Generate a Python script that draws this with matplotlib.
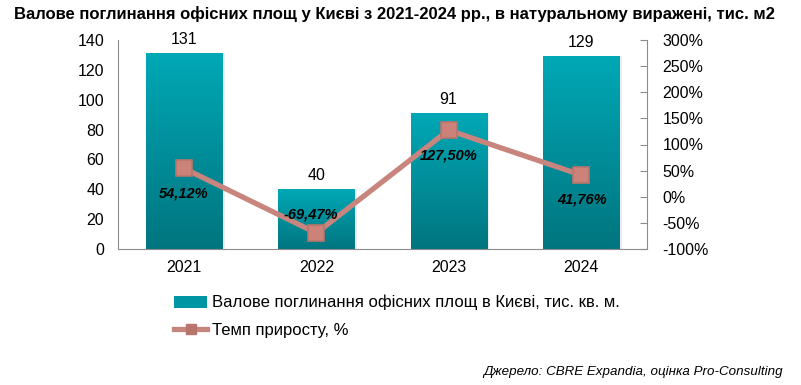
import numpy as np
import matplotlib.pyplot as plt
from matplotlib.colors import LinearSegmentedColormap
from matplotlib.lines import Line2D
from matplotlib.patches import Patch

plt.rcParams['font.family'] = ['Liberation Sans', 'DejaVu Sans']

years = ['2021', '2022', '2023', '2024']
absorption = [131, 40, 91, 129]
growth = [54.12, -69.47, 127.50, 41.76]
growth_labels = ['54,12%', '-69,47%', '127,50%', '41,76%']

bar_top = '#00A8B6'
bar_bottom = '#00757F'
line_col = '#C8857D'

fig = plt.figure(figsize=(8.01, 3.85), dpi=100)
ax = fig.add_axes([118 / 801, 1 - 249 / 385, 529 / 801, 209 / 385])
x = np.arange(len(years))

# bars with vertical gradient
cmap = LinearSegmentedColormap.from_list('teal', [bar_bottom, bar_top])
grad = np.linspace(0, 1, 256).reshape(-1, 1)
bars = ax.bar(x, absorption, width=0.575, color='none', edgecolor='none', zorder=2)
for b in bars:
    # faint shadow on the right
    ax.bar(b.get_x() + b.get_width() / 2 + 0.02, b.get_height(), width=b.get_width(),
           color='#ececec', edgecolor='none', zorder=1)
    im = ax.imshow(grad, cmap=cmap, aspect='auto', origin='lower', zorder=2,
                   extent=[b.get_x(), b.get_x() + b.get_width(), 0, b.get_height()])
    im.set_clip_path(b)
    ax.text(b.get_x() + b.get_width() / 2, b.get_height() + 4, str(int(b.get_height())),
            ha='center', va='bottom', fontsize=11.5)

ax.set_xlim(-0.5, len(years) - 0.5)
ax.set_ylim(0, 140)
ax.set_yticks(range(0, 141, 20))
ax.set_xticks(x)
ax.set_xticklabels(years)
ax.tick_params(axis='x', length=0, labelsize=11.5, pad=8)
ax.tick_params(axis='y', length=0, labelsize=11.5, pad=10)
for s in ['top', 'right']:
    ax.spines[s].set_visible(False)
ax.spines['left'].set_color('#8c8c8c')
ax.spines['bottom'].set_color('#8c8c8c')

ax2 = ax.twinx()
ax2.set_ylim(-100, 300)
ax2.set_yticks(range(-100, 301, 50))
ax2.set_yticklabels([f'{v}%' for v in range(-100, 301, 50)])
ax2.tick_params(axis='y', direction='in', length=5, color='#8c8c8c', labelsize=11.5, pad=11)
for s in ['top', 'left', 'bottom']:
    ax2.spines[s].set_visible(False)
ax2.spines['right'].set_color('#8c8c8c')

ax2.plot(x, growth, color=line_col, lw=3.8, marker='s', markersize=11,
         markerfacecolor='#CC8278', markeredgecolor='#B8756C', markeredgewidth=1.2,
         solid_capstyle='round', zorder=3)
offsets = [(0, -13), (-4, 8), (0, -13), (1, -13)]
for xi, g, lab, (dx, dy) in zip(x, growth, growth_labels, offsets):
    ax2.annotate(lab, (xi, g), xytext=(dx, dy), textcoords='offset points',
                 ha='center', va='top' if dy < 0 else 'bottom',
                 fontsize=10.5, fontweight='bold', fontstyle='italic')

fig.text(394 / 801, 1 - 14 / 385, 'Валове поглинання офісних площ у Києві з 2021-2024 рр., в натуральному виражені, тис. м2',
         ha='center', va='center', fontsize=12, fontweight='bold')

handles = [Patch(facecolor='#0095A2', edgecolor='none'),
           Line2D([0], [0], color=line_col, lw=3.8, marker='s', markersize=7,
                  markerfacecolor='#B8756C', markeredgecolor='#B8756C')]
fig.legend(handles, ['Валове поглинання офісних площ в Києві, тис. кв. м.', 'Темп приросту, %'],
           loc='upper left', bbox_to_anchor=(174 / 801, 1 - 295 / 385), frameon=False,
           fontsize=12, handlelength=2.0, handletextpad=0.25, labelspacing=0.75,
           borderaxespad=0, borderpad=0)

fig.text(783 / 801, 1 - 372 / 385, 'Джерело: CBRE Expandia, оцінка Pro-Consulting',
         ha='right', va='center', fontsize=9.6, fontstyle='italic')

fig.savefig('out.png', dpi=100)
